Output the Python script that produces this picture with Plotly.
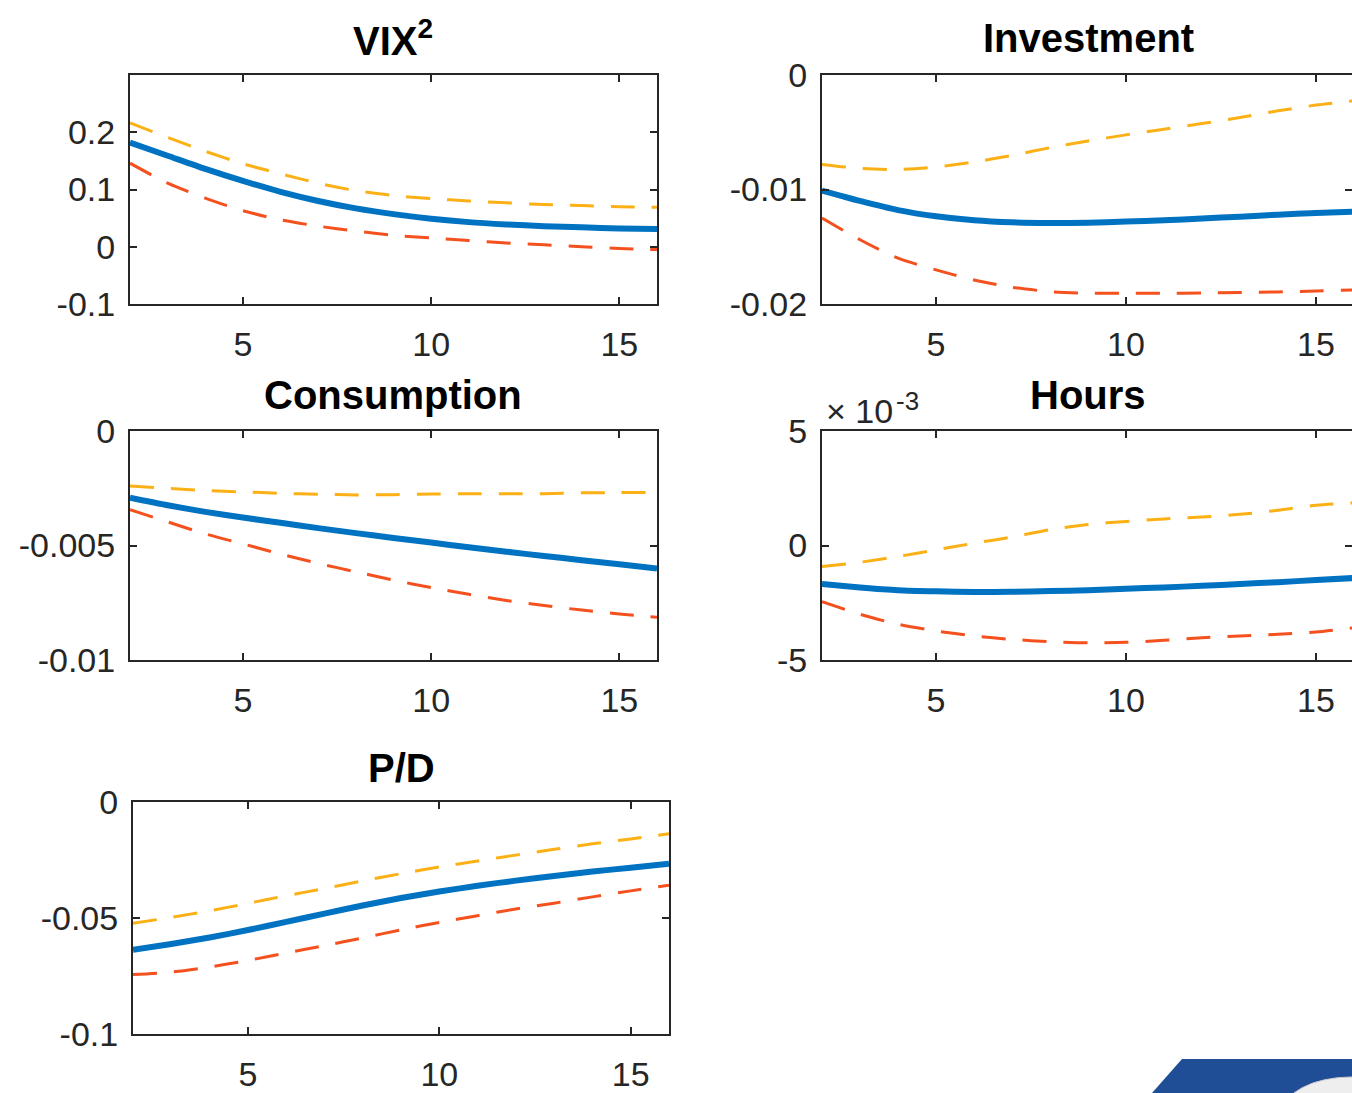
import plotly.graph_objects as go

W, H = 1352, 1093

# Horizon (periods after the shock)
horizon = list(range(2, 17))

# VIX^2 response: median and bands
vix_mid = [0.182, 0.159, 0.136, 0.115, 0.096, 0.080, 0.067, 0.057, 0.049,
           0.043, 0.039, 0.036, 0.034, 0.032, 0.031]
vix_hi = [0.2165, 0.191, 0.1667, 0.145, 0.1275, 0.111, 0.098, 0.0895, 0.084,
          0.080, 0.0767, 0.0737, 0.072, 0.070, 0.069]
vix_lo = [0.146, 0.111, 0.085, 0.063, 0.047, 0.036, 0.0275, 0.020, 0.0153,
          0.011, 0.0065, 0.0035, 0.0, -0.003, -0.005]

# Investment response
inv_mid = [-0.0101, -0.0110, -0.0118, -0.01234, -0.01269, -0.01287, -0.01292,
           -0.0129, -0.0128, -0.01269, -0.01254, -0.01237, -0.0122, -0.01205, -0.01193]
inv_hi = [-0.00781, -0.00816, -0.00825, -0.00804, -0.0076, -0.00702, -0.00635,
          -0.00576, -0.00523, -0.00474, -0.00424, -0.00371, -0.00313, -0.00263, -0.00225]
inv_lo = [-0.01249, -0.01439, -0.0160, -0.01702, -0.0179, -0.01854, -0.01892,
          -0.01906, -0.01906, -0.01906, -0.01904, -0.0190, -0.01895, -0.01886, -0.01877]

# Consumption response
con_mid = [-0.00291, -0.00324, -0.00353, -0.00378, -0.00401, -0.00424, -0.00446,
           -0.00467, -0.00487, -0.00508, -0.00527, -0.00546, -0.00564, -0.00582, -0.0060]
con_hi = [-0.0024, -0.0025, -0.0026, -0.00266, -0.00272, -0.00276, -0.00279,
          -0.00278, -0.00275, -0.00274, -0.00274, -0.00274, -0.0027, -0.00269, -0.00268]
con_lo = [-0.00343, -0.00397, -0.00449, -0.00493, -0.00537, -0.00578, -0.00615,
          -0.00651, -0.00684, -0.00713, -0.0074, -0.00762, -0.00782, -0.00799, -0.00813]

# Hours response (in units of 1e-3)
hrs_mid = [-1.68, -1.83, -1.95, -2.0, -2.03, -2.02, -1.99, -1.95, -1.89,
           -1.83, -1.76, -1.68, -1.6, -1.51, -1.42]
hrs_hi = [-0.92, -0.73, -0.48, -0.19, 0.10, 0.37, 0.69, 0.92, 1.05,
          1.16, 1.24, 1.36, 1.54, 1.76, 1.86]
hrs_lo = [-2.45, -3.0, -3.44, -3.73, -3.95, -4.1, -4.2, -4.25, -4.23,
          -4.14, -4.03, -3.95, -3.88, -3.78, -3.59]
hrs_scale = 1e-3

# Price-dividend response
pd_mid = [-0.0637, -0.0612, -0.0584, -0.0552, -0.0517, -0.0481, -0.0446, -0.0414,
          -0.0386, -0.0361, -0.0339, -0.0319, -0.030, -0.0283, -0.0266]
pd_hi = [-0.0523, -0.0497, -0.0469, -0.0437, -0.0404, -0.0373, -0.034, -0.0309,
         -0.028, -0.0254, -0.0229, -0.0204, -0.018, -0.0159, -0.0137]
pd_lo = [-0.0744, -0.0733, -0.0711, -0.0683, -0.0651, -0.0619, -0.0586, -0.0551,
         -0.0519, -0.049, -0.0461, -0.0436, -0.0409, -0.0383, -0.0359]

x_ticks = [5, 10, 15]

BLUE = "#0072C2"
YELLOW = "#FBB116"
RED = "#F4511E"
AXIS = "#262626"
FONT = "Liberation Sans, Arial, Helvetica, sans-serif"
TICK_SIZE = 34
TITLE_SIZE = 40


def px_x(p):
    return p / W


def px_y(p):
    return 1 - p / H


# Right-hand panels run off the page edge, so their x range stops short of 16
RIGHT_XMAX = 2 + (1352 - 822) / 38.0

panels = [
    # title, pixel box (x0, x1, y0, y1), x max, mid, hi, lo, scale,
    # y range, y tick values, y tick text, title centre (x, y)
    ("VIX<sup>2</sup>", (130, 657, 75, 304), 16, vix_mid, vix_hi, vix_lo, 1.0,
     [-0.1, 0.3], [-0.1, 0, 0.1, 0.2], ["-0.1", "0", "0.1", "0.2"], (393, 38)),
    ("Investment", (822, 1352, 75, 304), RIGHT_XMAX, inv_mid, inv_hi, inv_lo, 1.0,
     [-0.02, 0], [-0.02, -0.01, 0], ["-0.02", "-0.01", "0"], (1088, 38)),
    ("Consumption", (130, 657, 431, 660), 16, con_mid, con_hi, con_lo, 1.0,
     [-0.01, 0], [-0.01, -0.005, 0], ["-0.01", "-0.005", "0"], (393, 395)),
    ("Hours", (822, 1352, 431, 660), RIGHT_XMAX, hrs_mid, hrs_hi, hrs_lo, hrs_scale,
     [-0.005, 0.005], [-0.005, 0, 0.005], ["-5", "0", "5"], (1088, 395)),
    ("P/D", (133, 669, 802, 1034), 16, pd_mid, pd_hi, pd_lo, 1.0,
     [-0.1, 0], [-0.1, -0.05, 0], ["-0.1", "-0.05", "0"], (401, 768)),
]

fig = go.Figure()
layout = dict(
    width=W, height=H,
    margin=dict(l=0, r=0, t=0, b=0, autoexpand=False),
    paper_bgcolor="white", plot_bgcolor="white",
    showlegend=False,
    font=dict(family=FONT, size=TICK_SIZE, color=AXIS),
)
annotations = []

for i, (title, (x0, x1, y0, y1), xmax, mid, hi, lo, sc, yr, yt, ytt, (tx, ty)) in enumerate(panels):
    n = "" if i == 0 else str(i + 1)
    xa, ya = "x" + n, "y" + n
    for vals, color, width, dash in [
        (hi, YELLOW, 3, "24px,17px"),
        (lo, RED, 3, "24px,17px"),
        (mid, BLUE, 6, "solid"),
    ]:
        fig.add_trace(go.Scatter(
            x=horizon, y=[v * sc for v in vals], mode="lines",
            line=dict(color=color, width=width, dash=dash, shape="spline", smoothing=0.7),
            xaxis=xa, yaxis=ya, hoverinfo="skip",
        ))
    layout["xaxis" + n] = dict(
        domain=[px_x(x0), min(px_x(x1), 1.0)], range=[2, xmax], anchor=ya,
        tickvals=x_ticks, ticktext=[str(t) for t in x_ticks],
        ticks="inside", ticklen=7, tickwidth=1.5, tickcolor=AXIS,
        showline=True, linecolor=AXIS, linewidth=2, mirror="ticks",
        showgrid=False, zeroline=False, ticklabelstandoff=9, automargin=False,
        tickfont=dict(size=TICK_SIZE, color=AXIS, family=FONT),
    )
    layout["yaxis" + n] = dict(
        domain=[px_y(y1), px_y(y0)], range=yr, anchor=xa,
        tickvals=yt, ticktext=ytt,
        ticks="inside", ticklen=7, tickwidth=1.5, tickcolor=AXIS,
        showline=True, linecolor=AXIS, linewidth=2, mirror="ticks",
        showgrid=False, zeroline=False, ticklabelstandoff=6, automargin=False,
        tickfont=dict(size=TICK_SIZE, color=AXIS, family=FONT),
    )
    annotations.append(dict(
        text="<b>" + title + "</b>", xref="paper", yref="paper",
        x=px_x(tx), y=px_y(ty), xanchor="center", yanchor="middle", showarrow=False,
        font=dict(size=TITLE_SIZE, color="black", family=FONT),
    ))

# Exponent label for the Hours axis: multiplier and its power
annotations.append(dict(
    text="\u00d7 10", xref="paper", yref="paper",
    x=px_x(824), y=px_y(411), xanchor="left", yanchor="middle", showarrow=False,
    font=dict(size=TICK_SIZE, color=AXIS, family=FONT),
))
annotations.append(dict(
    text="-3", xref="paper", yref="paper",
    x=px_x(894), y=px_y(401), xanchor="left", yanchor="middle", showarrow=False,
    font=dict(size=26, color=AXIS, family=FONT),
))

layout["annotations"] = annotations

# Corner emblem
layout["shapes"] = [
    dict(type="path", xref="paper", yref="paper",
         path="M {:.5f},{:.5f} L {:.5f},{:.5f} L 1,{:.5f} L 1,0 Z".format(
             px_x(1152), px_y(1093), px_x(1182), px_y(1059), px_y(1059)),
         fillcolor="#1F4E96", line=dict(width=0), layer="above"),
    dict(type="circle", xref="paper", yref="paper",
         x0=px_x(1282), x1=px_x(1420), y0=px_y(1150), y1=px_y(1077),
         fillcolor="#EEEEEE", line=dict(color="#CCCCCC", width=1), layer="above"),
]

fig.update_layout(**layout)
fig.write_html("out.html")
